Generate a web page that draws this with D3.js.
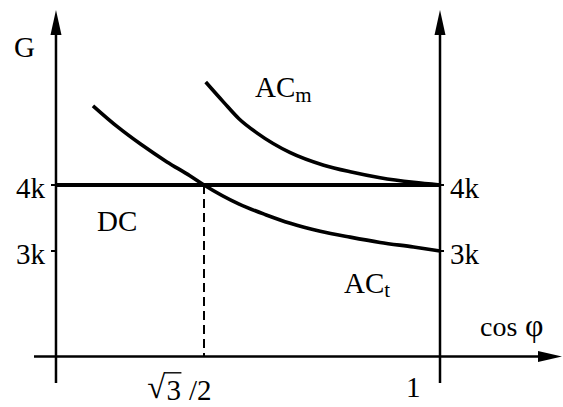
<!DOCTYPE html>
<html>
<head>
<meta charset="utf-8">
<script src="https://cdn.jsdelivr.net/npm/d3@7"></script>
<style>
  body { margin: 0; background: #fff; }
  svg text { font-family: "Liberation Serif", "Times New Roman", serif; fill: #000; }
</style>
</head>
<body>
<div id="chart"></div>
<script>
const SQ = Math.sqrt(3) / 2

// G (in k) against cos phi
const acT_cos = [0.803, 0.817, 0.830, 0.845, 0.858, SQ, 0.886, 0.901, 0.915, 0.932, 0.949, 0.966, 0.985, 1.0]
const acT_G   = [5.20, 4.88, 4.62, 4.35, 4.14, 4.0, 3.71, 3.55, 3.42, 3.30, 3.21, 3.13, 3.06, 3.0]

const acM_cos = [0.867, 0.877, 0.886, 0.896, 0.915, 0.934, 0.949, 0.966, 0.985, 1.0]
const acM_G   = [5.56, 5.26, 5.00, 4.79, 4.49, 4.30, 4.20, 4.11, 4.04, 4.0]

const dc_cos = [0.782, 1.0]
const dc_G   = [4, 4]

const yTicks = [4, 3]
const yTickLabels = ["4k", "3k"]

const width = 563
const height = 407

const x = d3.scaleLinear().domain([SQ, 1]).range([204, 440])
const y = d3.scaleLinear().domain([3, 4]).range([251, 185])

const leftX = x(0.782)
const rightX = x(1)
const baseY = 356.5
const axisTop = 10
const axisBottom = 383

const svg = d3.select("#chart").append("svg")
  .attr("width", width)
  .attr("height", height)

const zip = (a, b) => a.map((v, i) => [v, b[i]])

const line = d3.line()
  .x((d) => x(d[0]))
  .y((d) => y(d[1]))
  .curve(d3.curveMonotoneX)

// axes
const axes = svg.append("g").attr("stroke", "#000").attr("stroke-width", 2.5)
axes.append("line").attr("x1", leftX).attr("x2", leftX).attr("y1", axisBottom).attr("y2", axisTop + 20)
axes.append("line").attr("x1", rightX).attr("x2", rightX).attr("y1", axisBottom).attr("y2", axisTop + 20)
axes.append("line").attr("x1", 34).attr("x2", 545).attr("y1", baseY).attr("y2", baseY)

// arrow heads
const arrows = svg.append("g").attr("fill", "#000")
;[leftX, rightX].forEach((ax) => {
  arrows.append("path").attr("d", `M${ax},${axisTop} L${ax - 5.5},${axisTop + 25} L${ax + 5.5},${axisTop + 25} Z`)
})
arrows.append("path").attr("d", `M562,${baseY} L538,${baseY - 5.5} L538,${baseY + 5.5} Z`)

// ticks
yTicks.forEach((t) => {
  axes.append("line").attr("x1", leftX - 5).attr("x2", leftX).attr("y1", y(t)).attr("y2", y(t)).attr("stroke-width", 2)
  axes.append("line").attr("x1", rightX).attr("x2", rightX + 4).attr("y1", y(t)).attr("y2", y(t)).attr("stroke-width", 2)
})

// dashed guide at sqrt(3)/2
svg.append("line")
  .attr("x1", x(SQ)).attr("x2", x(SQ))
  .attr("y1", y(4)).attr("y2", baseY)
  .attr("stroke", "#000")
  .attr("stroke-width", 2)
  .attr("stroke-dasharray", "9,5")

// curves
svg.append("path").datum(zip(dc_cos, dc_G)).attr("d", line)
  .attr("fill", "none").attr("stroke", "#000").attr("stroke-width", 3.8)
svg.append("path").datum(zip(acT_cos, acT_G)).attr("d", line)
  .attr("fill", "none").attr("stroke", "#000").attr("stroke-width", 3.6)
svg.append("path").datum(zip(acM_cos, acM_G)).attr("d", line)
  .attr("fill", "none").attr("stroke", "#000").attr("stroke-width", 3.6)

// labels
const fs = 29
const label = (tx, ty, str, anchor, size) => svg.append("text")
  .attr("x", tx).attr("y", ty)
  .attr("text-anchor", anchor || "start")
  .style("font-size", (size || fs) + "px")
  .text(str)

label(14, 57, "G")
yTicks.forEach((t, i) => {
  label(leftX - 11, y(t) + 13, yTickLabels[i], "end")
  label(rightX + 10, y(t) + 13, yTickLabels[i])
})
label(97, 231, "DC")

const acm = label(255, 97, "AC")
acm.append("tspan").attr("dy", 5).style("font-size", "21px").text("m")
const act = label(344, 293, "AC")
act.append("tspan").attr("dy", 4).style("font-size", "21px").text("t")

const cosLabel = label(480, 336, "cos", "start", 28)
cosLabel.append("tspan").attr("x", 525).style("font-size", "32px").text("φ")

label(406, 397, "1")

// sqrt(3)/2: size the radical from its ink box so it spans the overline to the baseline,
// but keep its text box inside the picture
const ctx = document.createElement("canvas").getContext("2d")
ctx.font = "100px 'Liberation Serif'"
const m = ctx.measureText("√")
const inkH = m.actualBoundingBoxAscent + m.actualBoundingBoxDescent
const topY = 372
let rs = 31 / inkH
const rad = label(0, 0, "√", "start", 100 * rs)
const placeRad = () => {
  rad.style("font-size", 100 * rs + "px")
    .attr("x", 148 + m.actualBoundingBoxLeft * rs)
    .attr("y", topY + m.actualBoundingBoxAscent * rs)
}
placeRad()
let bb = rad.node().getBBox()
while (bb.y + bb.height > height - 1 && rs > 0.1) {
  rs *= 0.97
  placeRad()
  bb = rad.node().getBBox()
}
const radRight = 148 + (m.actualBoundingBoxLeft + m.actualBoundingBoxRight) * rs
label(radRight + 1, 400, "3")
label(189, 400, "/2")
svg.append("line")
  .attr("x1", radRight - 1).attr("x2", radRight + 16)
  .attr("y1", topY + 0.8).attr("y2", topY + 0.8)
  .attr("stroke", "#000").attr("stroke-width", 1.4)
</script>
</body>
</html>
